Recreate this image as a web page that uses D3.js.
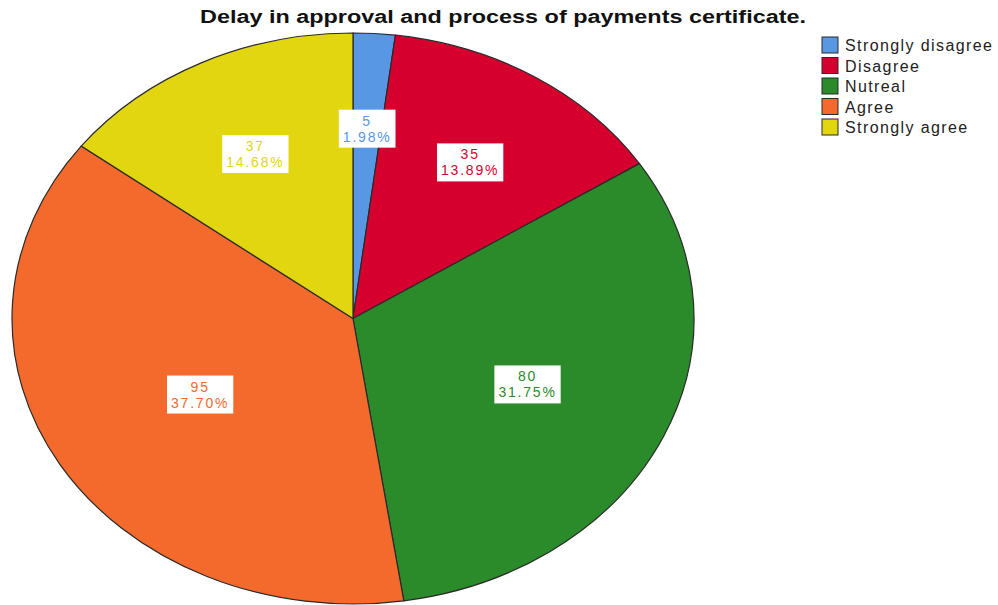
<!DOCTYPE html>
<html>
<head>
<meta charset="utf-8">
<script src="https://cdn.jsdelivr.net/npm/d3@7"></script>
<style>
  body { margin: 0; background: #fff; }
  svg { font-family: "Liberation Sans", Arial, sans-serif; }
</style>
</head>
<body>
<svg id="pie" width="998" height="605"></svg>
<script>
// chart data
const categories = ["Strongly disagree", "Disagree", "Nutreal", "Agree", "Strongly agree"];
const counts = [5, 35, 80, 95, 37];
const percents = ["1.98%", "13.89%", "31.75%", "37.70%", "14.68%"];
const colors = ["#5897e3", "#d6002f", "#2b8a2a", "#f4692c", "#e2d610"];

const svg = d3.select("#pie");

// ellipse geometry (pie is drawn as a circle and squashed vertically)
const cx = 353, cy = 318.5;
const rx = 341, ry = 285.5;

svg.append("text")
    .attr("x", 503)
    .attr("y", 23)
    .attr("text-anchor", "middle")
    .attr("font-weight", "bold")
    .attr("font-size", "18px")
    .attr("textLength", 606)
    .attr("lengthAdjust", "spacingAndGlyphs")
    .attr("fill", "#111")
    .text("Delay in approval and process of payments certificate.");

const pie = d3.pie().sort(null).value(d => d)(counts);
const arc = d3.arc().innerRadius(0).outerRadius(rx);

const g = svg.append("g")
    .attr("transform", `translate(${cx},${cy}) scale(1,${ry / rx})`);

g.selectAll("path")
    .data(pie)
    .enter()
    .append("path")
    .attr("d", arc)
    .attr("fill", (d, i) => colors[i])
    .attr("stroke", "#2a2a2a")
    .attr("stroke-width", 1.2)
    .attr("vector-effect", "non-scaling-stroke");

// labels sit at the centroid of each sector: 2 sin(h) / (3h) of the radius
const labels = svg.selectAll(".lbl")
    .data(pie)
    .enter()
    .append("g")
    .attr("class", "lbl")
    .attr("transform", d => {
        const a = (d.startAngle + d.endAngle) / 2;
        const h = (d.endAngle - d.startAngle) / 2;
        const f = 2 * Math.sin(h) / (3 * h);
        const x = cx + rx * f * Math.sin(a);
        const y = cy - ry * f * Math.cos(a);
        return `translate(${x},${y})`;
    });

labels.each(function (d, i) {
    const lg = d3.select(this);
    const rect = lg.append("rect").attr("fill", "#fff");
    const t1 = lg.append("text")
        .attr("text-anchor", "middle")
        .attr("y", -3)
        .attr("font-size", "14px")
        .attr("letter-spacing", "1.8px")
        .attr("fill", colors[i])
        .text(counts[i]);
    const t2 = lg.append("text")
        .attr("text-anchor", "middle")
        .attr("y", 13)
        .attr("font-size", "14px")
        .attr("letter-spacing", "1.8px")
        .attr("fill", colors[i])
        .text(percents[i]);
    const w = Math.max(t1.node().getBBox().width, t2.node().getBBox().width) + 8;
    rect.attr("x", -w / 2).attr("y", -19).attr("width", w).attr("height", 38);
});

// legend
const legend = svg.append("g")
    .attr("transform", "translate(822,37)");

const rows = legend.selectAll("g")
    .data(categories)
    .enter()
    .append("g")
    .attr("transform", (d, i) => `translate(0,${i * 20.5})`);

rows.append("rect")
    .attr("width", 16)
    .attr("height", 16)
    .attr("fill", (d, i) => colors[i])
    .attr("stroke", "#2a2a2a")
    .attr("stroke-width", 1);

rows.append("text")
    .attr("x", 23)
    .attr("y", 14)
    .attr("font-size", "16px")
    .attr("letter-spacing", "1.4px")
    .attr("fill", "#222")
    .text(d => d);
</script>
</body>
</html>
